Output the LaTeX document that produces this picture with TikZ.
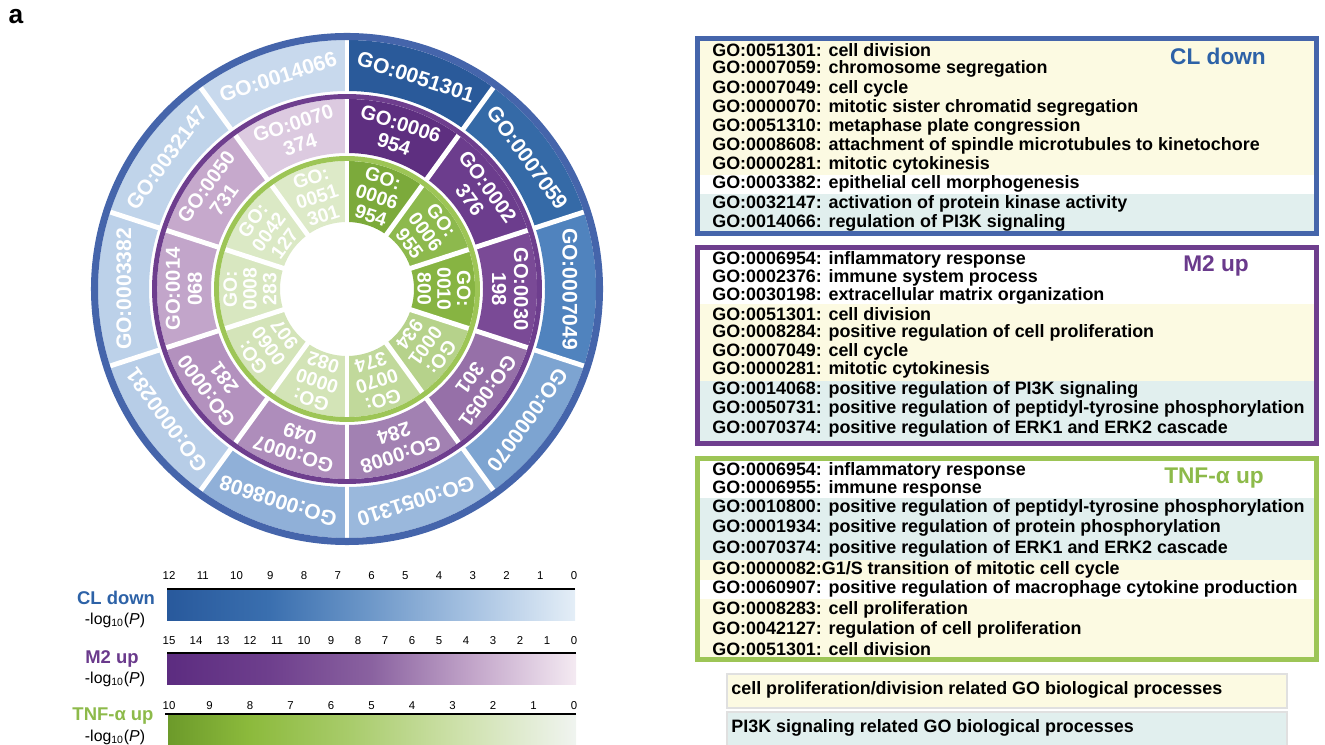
\documentclass[tikz,border=0pt]{standalone}
\usepackage{fontspec}
\setmainfont{Liberation Sans}
\usetikzlibrary{positioning}

% frame and title colours
\definecolor{cldown}{HTML}{4565AB}
\definecolor{cltext}{HTML}{2D62A7}
\definecolor{mtwo}{HTML}{6E3E8E}
\definecolor{mtext}{HTML}{6A3A8C}
\definecolor{tnf}{HTML}{9DC556}
\definecolor{tnftext}{HTML}{8DBA4A}
\definecolor{rowyel}{HTML}{FCFAE2}
\definecolor{rowteal}{HTML}{E1EFEE}
% outer ring
\definecolor{bA}{HTML}{2A5A9A}
\definecolor{bB}{HTML}{356AA7}
\definecolor{bC}{HTML}{5083BE}
\definecolor{bD}{HTML}{7DA4D1}
\definecolor{bE}{HTML}{9AB8DC}
\definecolor{bF}{HTML}{90B0D8}
\definecolor{bG}{HTML}{B7CDE7}
\definecolor{bH}{HTML}{BCD1E9}
\definecolor{bI}{HTML}{C0D4EA}
\definecolor{bJ}{HTML}{C8D9ED}
% middle ring
\definecolor{pA}{HTML}{5E2F80}
\definecolor{pB}{HTML}{6C3D8D}
\definecolor{pC}{HTML}{7A4A96}
\definecolor{pD}{HTML}{9670A8}
\definecolor{pE}{HTML}{A281B2}
\definecolor{pF}{HTML}{AE8DBB}
\definecolor{pG}{HTML}{B391BE}
\definecolor{pH}{HTML}{C2A5CA}
\definecolor{pI}{HTML}{C6A9CC}
\definecolor{pJ}{HTML}{DCCAE0}
% inner ring
\definecolor{gA}{HTML}{7CAA3B}
\definecolor{gB}{HTML}{8DB94D}
\definecolor{gC}{HTML}{87B442}
\definecolor{gD}{HTML}{B6D28B}
\definecolor{gE}{HTML}{C1D99B}
\definecolor{gF}{HTML}{D3E4B7}
\definecolor{gG}{HTML}{D4E4B9}
\definecolor{gH}{HTML}{D8E7C0}
\definecolor{gI}{HTML}{DBE9C5}
\definecolor{gJ}{HTML}{DDEAC8}
% colour bars
\definecolor{clA}{HTML}{28599C}
\definecolor{clB}{HTML}{3A6FAF}
\definecolor{clC}{HTML}{6E98C9}
\definecolor{clD}{HTML}{A8C3E2}
\definecolor{clE}{HTML}{E4EEF7}
\definecolor{mA}{HTML}{5C2C80}
\definecolor{mB}{HTML}{6E3F8D}
\definecolor{mC}{HTML}{8A62A0}
\definecolor{mD}{HTML}{C3A6CA}
\definecolor{mE}{HTML}{F4EAF2}
\definecolor{tA}{HTML}{6C9A2A}
\definecolor{tB}{HTML}{8CBA3C}
\definecolor{tC}{HTML}{A9CC6C}
\definecolor{tD}{HTML}{CCE0A8}
\definecolor{tE}{HTML}{F0F4F0}

% the bar covers 25bp..75bp of each shading
\pgfdeclarehorizontalshading{clshade}{100bp}{color(0bp)=(clA); color(25bp)=(clA); color(37.5bp)=(clB); color(50bp)=(clC); color(62.5bp)=(clD); color(75bp)=(clE); color(100bp)=(clE)}
\pgfdeclarehorizontalshading{mshade}{100bp}{color(0bp)=(mA); color(25bp)=(mA); color(37.5bp)=(mB); color(50bp)=(mC); color(62.5bp)=(mD); color(75bp)=(mE); color(100bp)=(mE)}
\pgfdeclarehorizontalshading{tshade}{100bp}{color(0bp)=(tA); color(25bp)=(tA); color(35bp)=(tB); color(47.5bp)=(tC); color(60bp)=(tD); color(75bp)=(tE); color(100bp)=(tE)}

\tikzset{
  golist/.style={anchor=west, inner sep=0pt, font=\fontsize{10.2}{11}\selectfont\bfseries},
  boxtitle/.style={inner sep=0pt, font=\fontsize{12.9}{14}\selectfont\bfseries},
  outerlab/.style={text=white, inner sep=0pt, font=\fontsize{12}{13}\selectfont\bfseries},
  midlab/.style={text=white, inner sep=0pt, align=center, font=\fontsize{11.5}{12.5}\selectfont\bfseries},
  innerlab/.style={text=white, inner sep=0pt, align=center, font=\fontsize{11}{11.2}\selectfont\bfseries},
  gap/.style={white, line width=2.8pt},
  ticklab/.style={inner sep=0pt, font=\fontsize{6.5}{7}\selectfont},
  barname/.style={inner sep=0pt, font=\fontsize{10.5}{12}\selectfont\bfseries},
  barunit/.style={inner sep=0pt, font=\fontsize{9}{10}\selectfont},
  legendbox/.style={draw=black!12, line width=0.8pt},
}

\begin{document}
\begin{tikzpicture}[x=0.02cm,y=0.02cm]
\useasboundingbox (0,0) rectangle (1325,744);
\node[inner sep=0pt, font=\fontsize{15}{16}\selectfont\bfseries] (panel) at (16,727) {a};

% rings
\begin{scope}[shift={(347,455)}]
\foreach \num/\col [count=\i] in {0051301/bA,0007059/bB,0007049/bC,0000070/bD,0051310/bE,0008608/bF,0000281/bG,0003382/bH,0032147/bI,0014066/bJ}{
  \pgfmathsetmacro\sa{126-36*\i}
  \pgfmathsetmacro\ea{\sa-36}
  \pgfmathsetmacro\ma{\sa-18}
  \fill[\col] (\sa:198) arc[start angle=\sa, end angle=\ea, radius=198] -- (\ea:249) arc[start angle=\ea, end angle=\sa, radius=249] -- cycle;
  \node[outerlab, rotate=\ma-90] (cl-\i) at (\ma:223) {GO:\num};
}
\foreach \na/\nb/\col [count=\i] in {0006/954/pA,0002/376/pB,0030/198/pC,0051/301/pD,0008/284/pE,0007/049/pF,0000/281/pG,0014/068/pH,0050/731/pI,0070/374/pJ}{
  \pgfmathsetmacro\sa{126-36*\i}
  \pgfmathsetmacro\ea{\sa-36}
  \pgfmathsetmacro\ma{\sa-18}
  \fill[\col] (\sa:136) arc[start angle=\sa, end angle=\ea, radius=136] -- (\ea:190) arc[start angle=\ea, end angle=\sa, radius=190] -- cycle;
  \node[midlab, rotate=\ma-90] (m2-\i) at (\ma:163) {GO:\na\\\nb};
}
\foreach \na/\nb/\col [count=\i] in {0006/954/gA,0006/955/gB,0010/800/gC,0001/934/gD,0070/374/gE,0000/082/gF,0060/907/gG,0008/283/gH,0042/127/gI,0051/301/gJ}{
  \pgfmathsetmacro\sa{126-36*\i}
  \pgfmathsetmacro\ea{\sa-36}
  \pgfmathsetmacro\ma{\sa-18}
  \fill[\col] (\sa:67) arc[start angle=\sa, end angle=\ea, radius=67] -- (\ea:128) arc[start angle=\ea, end angle=\sa, radius=128] -- cycle;
  \node[innerlab, rotate=\ma-90] (tnf-\i) at (\ma:97) {GO:\\\na\\\nb};
}
\foreach \k in {0,...,9}{
  \draw[gap] (90-36*\k:196) -- (90-36*\k:250);
  \draw[gap] (90-36*\k:134) -- (90-36*\k:191);
  \draw[gap] (90-36*\k:64) -- (90-36*\k:129);
}
\draw[cldown, line width=4pt] (0,0) circle[radius=252.5];
\draw[mtwo, line width=2.8pt] (0,0) circle[radius=192.5];
\draw[tnf, line width=2.8pt] (0,0) circle[radius=130.5];
\end{scope}

% colour bars
\fill[shading=clshade] (167,124) rectangle (575,155);
\draw[line width=1.1pt] (167,155) -- (575,155);
\foreach \v [count=\i] in {12,11,...,0}
  \node[ticklab] (clt-\i) at ({169+(\i-1)*33.75},168) {\v};
\node[barname, text=cltext] (clname) at (116,146) {CL down};
\node[barunit] (clunit) at (115,124) {-log\textsubscript{10}(\textit{P})};

\fill[shading=mshade] (167,60) rectangle (576,91);
\draw[line width=1.1pt] (167,91) -- (576,91);
\foreach \v [count=\i] in {15,14,...,0}
  \node[ticklab] (mt-\i) at ({169+(\i-1)*27},103) {\v};
\node[barname, text=mtext] (mname) at (112,85) {M2 up};
\node[barunit] (munit) at (115,65) {-log\textsubscript{10}(\textit{P})};

\fill[shading=tshade] (168,-2) rectangle (576,30);
\draw[line width=1.1pt] (165,30) -- (576,30);
\foreach \v [count=\i] in {10,9,...,0}
  \node[ticklab] (tt-\i) at ({169+(\i-1)*40.5},38) {\v};
\node[barname, text=tnftext] (tname) at (113,28) {TNF-α up};
\node[barunit] (tunit) at (115,7) {-log\textsubscript{10}(\textit{P})};

% CL down box
\fill[rowyel] (700,703) rectangle (1314,569);
\fill[rowteal] (700,550) rectangle (1314,513);
\draw[cldown, line width=2.8pt] (697.5,705.5) rectangle (1316.5,510.5);
\foreach \y/\t [count=\i] in {694/{GO:0051301: cell division},675/{GO:0007059: chromosome segregation},655/{GO:0007049: cell cycle},636/{GO:0000070: mitotic sister chromatid segregation},617/{GO:0051310: metaphase plate congression},598/{GO:0008608: attachment of spindle microtubules to kinetochore},579/{GO:0000281: mitotic cytokinesis},560/{GO:0003382: epithelial cell morphogenesis},540/{GO:0032147: activation of protein kinase activity},521/{GO:0014066: regulation of PI3K signaling}}
  \node[golist] (cltxt-\i) at (712,\y) {\t};
\node[boxtitle, text=cltext] (cltitle) at (1218,688) {CL down};

% M2 up box
\fill[rowyel] (700,440) rectangle (1314,363);
\fill[rowteal] (700,363) rectangle (1314,303);
\draw[mtwo, line width=2.8pt] (697.5,496.5) rectangle (1316.5,300.5);
\foreach \y/\t [count=\i] in {484/{GO:0006954: inflammatory response},466/{GO:0002376: immune system process},448/{GO:0030198: extracellular matrix organization},430/{GO:0051301: cell division},411/{GO:0008284: positive regulation of cell proliferation},392/{GO:0007049: cell cycle},374/{GO:0000281: mitotic cytokinesis},354/{GO:0014068: positive regulation of PI3K signaling},335/{GO:0050731: positive regulation of peptidyl-tyrosine phosphorylation},315/{GO:0070374: positive regulation of ERK1 and ERK2 cascade}}
  \node[golist] (m2txt-\i) at (712,\y) {\t};
\node[boxtitle, text=mtext] (m2title) at (1216,478) {M2 up};

% TNF-a up box
\fill[rowteal] (700,246) rectangle (1314,184);
\fill[rowyel] (700,184) rectangle (1314,164);
\fill[rowyel] (700,145) rectangle (1314,87);
\draw[tnf, line width=2.8pt] (697.5,285.5) rectangle (1316.5,84.5);
\foreach \y/\t [count=\i] in {273/{GO:0006954: inflammatory response},255/{GO:0006955: immune response},236/{GO:0010800: positive regulation of peptidyl-tyrosine phosphorylation},216/{GO:0001934: positive regulation of protein phosphorylation},195/{GO:0070374: positive regulation of ERK1 and ERK2 cascade},174/{GO:0000082:G1/S transition of mitotic cell cycle},155/{GO:0060907: positive regulation of macrophage cytokine production},134/{GO:0008283: cell proliferation},114/{GO:0042127: regulation of cell proliferation},95/{GO:0051301: cell division}}
  \node[golist] (tnftxt-\i) at (712,\y) {\t};
\node[boxtitle, text=tnftext] (tnftitle) at (1214,266) {TNF-α up};

% legend
\filldraw[legendbox, fill=rowyel] (727,70) rectangle (1287,36);
\node[golist] (keyprolif) at (731,54) {cell proliferation/division related GO biological processes};
\filldraw[legendbox, fill=rowteal] (727,32) rectangle (1287,-4);
\node[golist] (keypik) at (731,16) {PI3K signaling related GO biological processes};
\end{tikzpicture}
\end{document}
